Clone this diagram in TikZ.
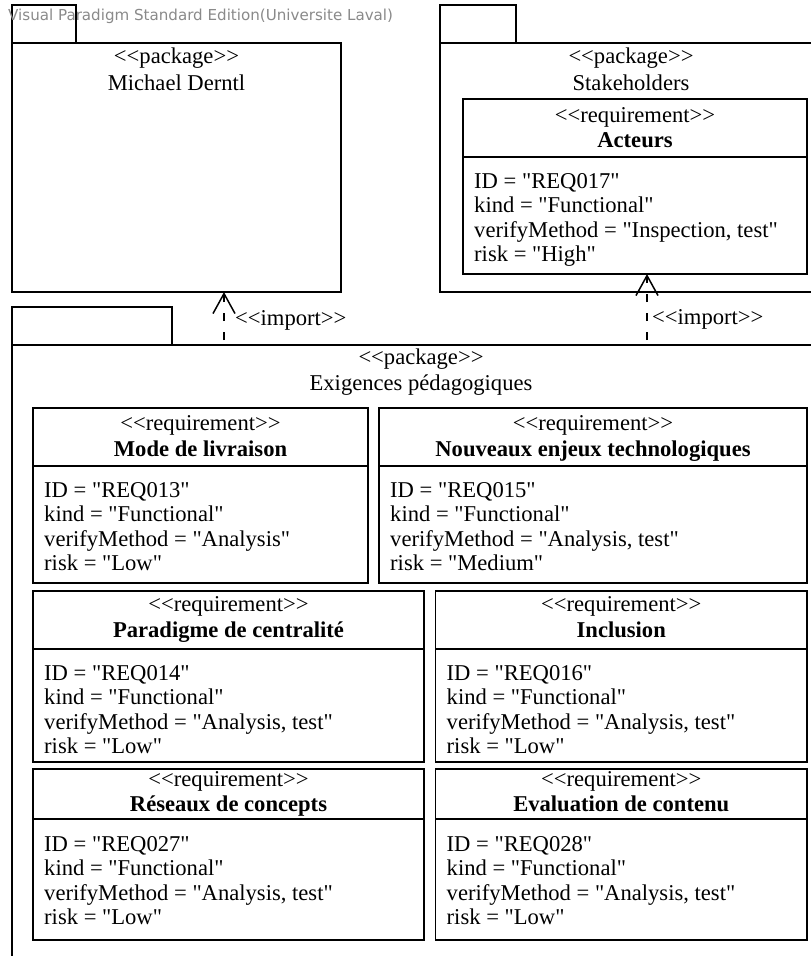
\documentclass[tikz,border=0pt]{standalone}
\usepackage{fontspec}
\setmainfont{Liberation Serif}[Ligatures=TeXOff]
\newfontfamily\wmfont{DejaVu Sans}
\usetikzlibrary{arrows.meta}
\definecolor{wmgray}{HTML}{8A8A8A}
\newcommand\umlfont{\fontsize{22.6}{24.5}\selectfont}
% a framed pane: name, x1, y1, x2, y2 (y grows downwards)
\newcommand\pane[5]{\node[umlbox, minimum width={(#4)-(#2)}, minimum height={(#5)-(#3)}] (#1) at (#2,#3) {};}
\begin{document}
\begin{tikzpicture}[x=1pt,y=-1pt,
  umlbox/.style={draw, line width=1.5pt, rectangle, anchor=north west, inner sep=0pt, outer sep=0pt},
  divider/.style={line width=1.5pt},
  label/.style={inner sep=0pt, anchor=base, font=\umlfont},
  fieldtext/.style={inner sep=0pt, anchor=base west, font=\umlfont},
  importdep/.style={line width=1.5pt, dash pattern=on 8pt off 11pt, dash phase=14pt,
    -{Straight Barb[length=20pt,width=22pt,line width=1.5pt]}},
  wmark/.style={inner sep=0pt, anchor=base west, font=\wmfont\fontsize{15.1}{18}\selectfont, text=wmgray}]
\useasboundingbox (0,0) rectangle (811,956);
\fill[white] (0,0) rectangle (811,956);

% --- package Michael Derntl
\pane{md-tab}{12}{5}{76}{43}
\pane{md}{12}{43}{341}{292}
\node[label] at (176.5,63) {<<package>>};
\node[label] at (176.5,90) {Michael Derntl};

% --- package Stakeholders
\pane{sh-tab}{440}{5}{516}{43}
\pane{sh}{440}{43}{822}{292}
\node[label] at (631,63) {<<package>>};
\node[label] at (631,90) {Stakeholders};

% --- package Exigences pedagogiques
\pane{ex-tab}{12}{307}{172}{345}
\pane{ex}{12}{345}{830}{990}
\node[label] at (421,364) {<<package>>};
\node[label] at (421,390) {Exigences pédagogiques};

% --- requirements
\foreach \nm/\xa/\xb/\yt/\yd/\yb/\ys/\yh/\yf/\title/\rid/\vm/\rk in {
  acteurs/463/807/99/157/274/122/147/188/{Acteurs}/{REQ017}/{Inspection, test}/{High},
  r13/33/368/408/466/583/430/456/497/{Mode de livraison}/{REQ013}/{Analysis}/{Low},
  r15/379/807/408/466/583/430/456/497/{Nouveaux enjeux technologiques}/{REQ015}/{Analysis, test}/{Medium},
  r14/33/424/591/649/762/611/637/680/{Paradigme de centralité}/{REQ014}/{Analysis, test}/{Low},
  r16/435.5/807/591/649/762/611/637/680/{Inclusion}/{REQ016}/{Analysis, test}/{Low},
  r27/33/424/769/819/940/786/811/851/{Réseaux de concepts}/{REQ027}/{Analysis, test}/{Low},
  r28/435.5/807/769/819/940/786/811/851/{Evaluation de contenu}/{REQ028}/{Analysis, test}/{Low}}{
  \pane{\nm}{\xa}{\yt}{\xb}{\yb}
  \draw[divider] (\nm.west |- 0,\yd) -- (\nm.east |- 0,\yd);
  \node[label] at ({(\xa+\xb)/2},\ys) {<<requirement>>};
  \node[label, font=\umlfont\bfseries] at ({(\xa+\xb)/2},\yh) {\title};
  \node[fieldtext] at (\xa+11,\yf) {ID = "\rid"};
  \node[fieldtext] at (\xa+11,\yf+24.5) {kind = "Functional"};
  \node[fieldtext] at (\xa+11,\yf+49) {verifyMethod = "\vm"};
  \node[fieldtext] at (\xa+11,\yf+73.5) {risk = "\rk"};
}

% --- import dependencies
\coordinate (i1) at (224,0);
\coordinate (i2) at (647,0);
\draw[importdep] (ex.north -| i1) -- (md.south -| i1);
\draw[importdep] (ex.north -| i2) -- (acteurs.south -| i2);
\node[label, anchor=base west] (imp1) at (235,325) {<<import>>};
\node[label, anchor=base west] (imp2) at (652,324) {<<import>>};

% --- watermark
\node[wmark] (wm) at (8,20) {Visual Paradigm Standard Edition(Universite Laval)};
\end{tikzpicture}
\end{document}
